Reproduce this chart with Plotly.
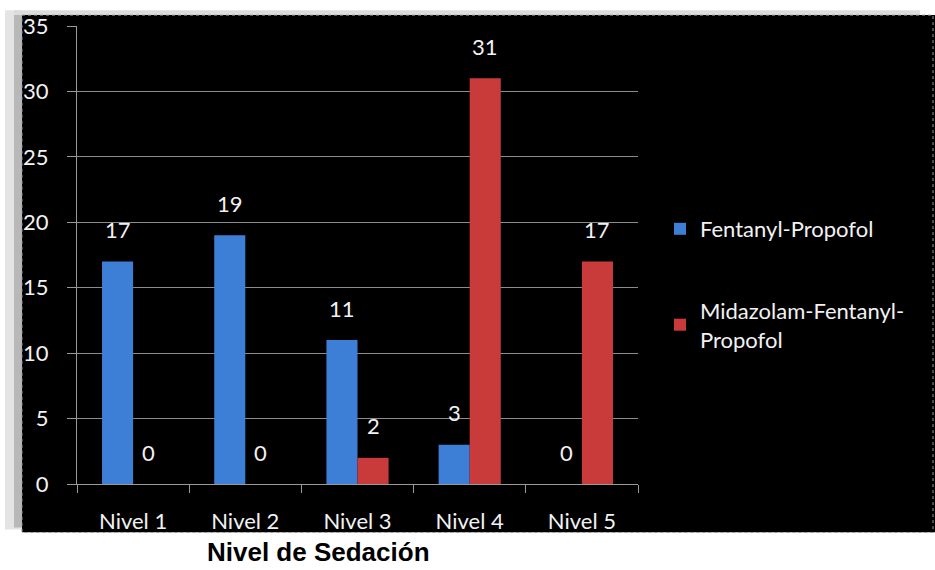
import plotly.graph_objects as go

categories = ["Nivel 1", "Nivel 2", "Nivel 3", "Nivel 4", "Nivel 5"]
fentanyl_propofol = [17, 19, 11, 3, 0]
midazolam_fentanyl_propofol = [0, 0, 2, 31, 17]
series_names = ["Fentanyl-Propofol", "Midazolam-Fentanyl-<br>Propofol"]
y_ticks = [0, 5, 10, 15, 20, 25, 30, 35]
x_title = "Nivel de Sedación"

W, H = 935, 570
L, R, T, B = 77, 638, 21, 484
BARGAP = 0.446
FONT = "Lato"

def px(x):
    return (x - L) / (R - L)

def py(y):
    return (B - y) / (B - T)

blue = "#3d7ed6"
red = "#c93b3b"

fig = go.Figure()
fig.add_trace(go.Bar(x=categories, y=fentanyl_propofol, name=series_names[0],
                     marker=dict(color=blue, line=dict(width=0)),
                     legendgroup="a"))
fig.add_trace(go.Bar(x=categories, y=midazolam_fentanyl_propofol, name=series_names[1],
                     marker=dict(color=red, line=dict(width=0)),
                     legendgroup="b"))

cat_px = (R - L) / len(categories)
bw = cat_px * (1 - BARGAP) / 2
for vals, sh in ((fentanyl_propofol, -bw / 2), (midazolam_fentanyl_propofol, bw / 2)):
    for c, v in zip(categories, vals):
        fig.add_annotation(x=c, y=v, text=str(v), showarrow=False, xshift=sh, yshift=32,
                           yanchor="middle", font=dict(family=FONT, size=22, color="#f2f2f2"))

def rect(x0, x1, y0, y1, **kw):
    d = dict(type="rect", xref="paper", yref="paper", x0=px(x0), x1=px(x1), y0=py(y0), y1=py(y1))
    d.update(kw)
    return d

shapes = [
    rect(5, 22, 5, 530, fillcolor="#e4e4e4", line_width=0, layer="below"),
    rect(14, 22, 10, 528, fillcolor="#b8b8b8", line_width=0, layer="below"),
    rect(14, 920, 5, 10, fillcolor="#dcdcdc", line_width=0, layer="below"),
    rect(22, 935, 10, 533, fillcolor="black", line_width=0, layer="below"),
    rect(0, 935, 533, 570, fillcolor="white", line_width=0, layer="above"),
    rect(22, 933, 10, 533, line=dict(color="#9a9a9a", width=1, dash="dot"),
         fillcolor="rgba(0,0,0,0)", layer="above"),
]

fig.add_annotation(x=px(318), y=py(553), xref="paper", yref="paper", text="<b>" + x_title + "</b>",
                   showarrow=False, font=dict(family="Liberation Sans, Arial", size=26, color="black"),
                   xanchor="center", yanchor="middle")

fig.update_layout(
    width=W, height=H,
    margin=dict(l=L, r=W - R, t=T, b=H - B),
    paper_bgcolor="white", plot_bgcolor="#404040",
    barmode="group", bargap=BARGAP, bargroupgap=0,
    shapes=shapes,
    showlegend=True,
    legend=dict(x=px(660), y=py(205), xanchor="left", yanchor="top",
                font=dict(family=FONT, size=22, color="#f2f2f2"),
                bgcolor="rgba(0,0,0,0)", tracegroupgap=50, traceorder="grouped"),
    xaxis=dict(showgrid=False, showline=True, linecolor="#9a9a9a", linewidth=1,
               ticks="outside", tickson="boundaries", ticklen=8, tickcolor="#9a9a9a",
               tickfont=dict(family=FONT, size=22, color="#f2f2f2"), ticklabelstandoff=18,
               fixedrange=True),
    yaxis=dict(range=[0, 35], tickvals=y_ticks, showgrid=True, gridcolor="#8c8c8c", gridwidth=1,
               showline=True, linecolor="#9a9a9a", linewidth=1, zeroline=False,
               ticks="outside", ticklen=9, tickcolor="#9a9a9a",
               tickfont=dict(family=FONT, size=22, color="#f2f2f2"), ticklabelstandoff=14,
               fixedrange=True),
)

fig.write_html("out.html")
